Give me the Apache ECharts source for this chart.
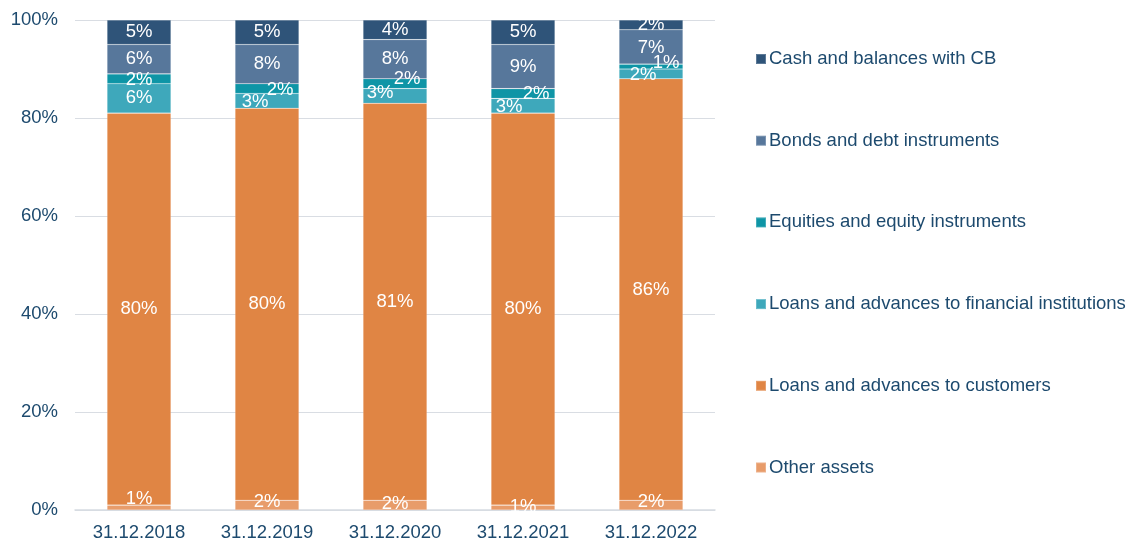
<!DOCTYPE html>
<html>
<head>
<meta charset="utf-8">
<script src="https://cdn.jsdelivr.net/npm/echarts@6/dist/echarts.min.js"></script>
<style>
  html, body { margin: 0; padding: 0; background: #fff; }
  #chart { width: 1130px; height: 542px; }
</style>
</head>
<body>
<div id="chart"></div>
<script>
// balance sheet structure, % of total assets
const years = ['31.12.2018', '31.12.2019', '31.12.2020', '31.12.2021', '31.12.2022']
const otherAssets = [1, 2, 2, 1, 2]
const loansCustomers = [80, 80, 81, 80, 86]
const loansFinInst = [6, 3, 3, 3, 2]
const equities = [2, 2, 2, 2, 1]
const bonds = [6, 8, 8, 9, 7]
const cashCB = [5, 5, 4, 5, 2]

const yTicks = [0, 20, 40, 60, 80, 100]

const textColor = '#1d4a6e'
const font = 'Liberation Sans, Arial, sans-serif'

// label nudges [dx, dy] for crowded segments, like excel moved them
const nudge = {
    'Other assets': [[0, -9], [0, -3], [0, -1], [0, -1], [0, -3]],
    'Loans and advances to financial institutions': [[0, 0], [-12, 1], [-15, -3], [-14, 1], [-8, 1]],
    'Equities and equity instruments': [[0, 1], [13, 1], [12, -5], [13, 0], [15, -4]],
    'Bonds and debt instruments': [[0, 0], [0, 0], [0, 0], [0, 0], [0, 1]],
}

const seriesDefs = [
    { name: 'Other assets', data: otherAssets, color: '#e89c6a' },
    { name: 'Loans and advances to customers', data: loansCustomers, color: '#e08544' },
    { name: 'Loans and advances to financial institutions', data: loansFinInst, color: '#3ea8bb' },
    { name: 'Equities and equity instruments', data: equities, color: '#0e95a6' },
    { name: 'Bonds and debt instruments', data: bonds, color: '#57779b' },
    { name: 'Cash and balances with CB', data: cashCB, color: '#2f5479' },
]

const series = seriesDefs.map(s => ({
    name: s.name,
    type: 'bar',
    stack: 'total',
    barWidth: 64,
    itemStyle: {
        color: s.color,
        borderColor: 'rgba(255,255,255,0.22)',
        borderWidth: 0.6,
    },
    label: {
        show: true,
        position: 'inside',
        color: '#fff',
        fontFamily: font,
        fontSize: 18.5,
        formatter: '{c}%',
    },
    data: s.data.map((v, i) => {
        const n = nudge[s.name]
        if (!n) return v
        return { value: v, label: { offset: n[i] } }
    }),
    animation: false,
}))

const chart = echarts.init(document.getElementById('chart'))
chart.setOption({
    animation: false,
    grid: {
        left: 75,
        right: 415,
        top: 20,
        bottom: 31,
    },
    legend: {
        orient: 'vertical',
        left: 750,
        top: 44,
        itemWidth: 10,
        itemHeight: 10,
        itemGap: 61.7,
        icon: 'rect',
        data: seriesDefs.map(s => s.name).reverse(),
        textStyle: {
            color: textColor,
            fontFamily: font,
            fontSize: 18.5,
            lineHeight: 20,
            padding: [0, 0, 0, -2],
        },
    },
    xAxis: {
        type: 'category',
        data: years,
        axisLine: { lineStyle: { color: '#d6dbe2', width: 1.5 } },
        axisTick: { show: false },
        axisLabel: {
            color: textColor,
            fontFamily: font,
            fontSize: 18.5,
            margin: 13,
        },
    },
    yAxis: {
        type: 'value',
        min: yTicks[0],
        max: yTicks[yTicks.length - 1],
        interval: yTicks[1] - yTicks[0],
        axisLine: { show: false },
        axisTick: { show: false },
        splitLine: { lineStyle: { color: '#d9dde3', width: 1 } },
        axisLabel: {
            color: textColor,
            fontFamily: font,
            fontSize: 18.5,
            margin: 17,
            formatter: '{value}%',
        },
    },
    series: series,
})
</script>
</body>
</html>
